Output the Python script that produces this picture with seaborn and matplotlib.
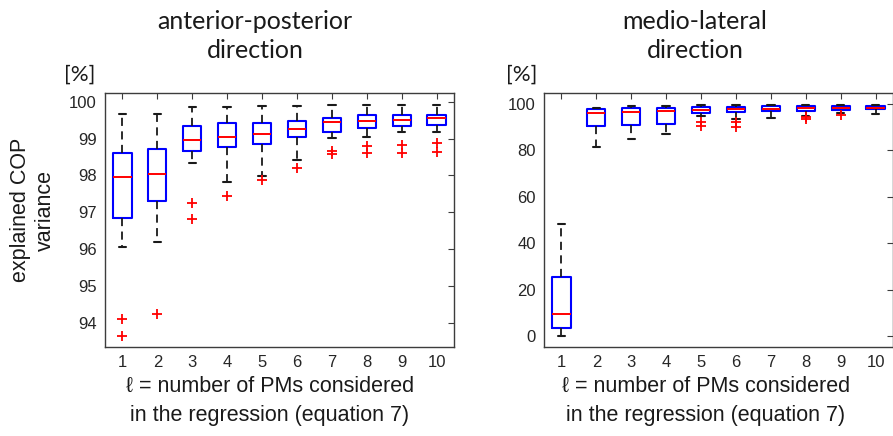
import numpy as np
import pandas as pd
import matplotlib
matplotlib.use("Agg")
import matplotlib.pyplot as plt
import seaborn as sns

# ---- data ----
pms = [1, 2, 3, 4, 5, 6, 7, 8, 9, 10]
ap_lo  = [96.05, 96.18, 98.33, 97.82, 97.98, 98.43, 99.02, 99.05, 99.19, 99.19]
ap_q1  = [96.84, 97.30, 98.67, 98.76, 98.85, 99.04, 99.19, 99.30, 99.34, 99.38]
ap_med = [97.96, 98.04, 98.96, 99.04, 99.12, 99.25, 99.44, 99.49, 99.52, 99.55]
ap_q3  = [98.62, 98.71, 99.34, 99.42, 99.43, 99.49, 99.55, 99.63, 99.64, 99.64]
ap_hi  = [99.67, 99.67, 99.85, 99.86, 99.88, 99.90, 99.92, 99.92, 99.92, 99.92]
ap_out_l = [1, 1, 2, 3, 3, 4, 5, 6, 7, 7, 8, 8, 9, 9, 10, 10]
ap_out_v = [94.09, 93.64, 94.23, 97.26, 96.82, 97.44, 97.89, 98.21,
            98.66, 98.58, 98.80, 98.60, 98.84, 98.62, 98.87, 98.63]

ml_lo  = [0.0, 81.3, 84.8, 86.9, 94.6, 93.5, 93.8, 95.0, 96.3, 95.6]
ml_q1  = [3.6, 90.6, 91.0, 91.2, 96.3, 96.5, 96.9, 97.0, 97.2, 97.6]
ml_med = [9.6, 96.0, 96.4, 97.0, 97.4, 97.7, 97.9, 98.1, 98.2, 98.4]
ml_q3  = [25.3, 97.7, 98.1, 98.1, 98.8, 98.8, 98.9, 99.1, 99.1, 99.3]
ml_hi  = [48.3, 98.4, 99.3, 99.3, 99.6, 99.6, 99.6, 99.6, 99.6, 99.6]
ml_out_l = [5, 5, 6, 6, 8, 8, 9]
ml_out_v = [92.4, 90.6, 92.4, 90.2, 94.4, 93.6, 95.2]

ap_yticks = [94, 95, 96, 97, 98, 99, 100]
ml_yticks = [0, 20, 40, 60, 80, 100]
titles = ["anterior-posterior\ndirection", "medio-lateral\ndirection"]
xlabel = "\u2113 = number of PMs considered\nin the regression (equation 7)"
ylabel = "explained COP\nvariance"
unit = "[%]"


def five_number_frame(lo, q1, med, q3, hi):
    rows = []
    for i, l in enumerate(pms):
        for v in (lo[i], q1[i], med[i], q3[i], hi[i]):
            rows.append((l, v))
    return pd.DataFrame(rows, columns=["l", "value"])


ap_df = five_number_frame(ap_lo, ap_q1, ap_med, ap_q3, ap_hi)
ml_df = five_number_frame(ml_lo, ml_q1, ml_med, ml_q3, ml_hi)

sns.set_style("white")
plt.rcParams["font.family"] = ["Liberation Sans", "DejaVu Sans"]

W, H = 893, 436
fig = plt.figure(figsize=(W / 100, H / 100), dpi=100)

def px_axes(x0, y0, x1, y1):
    return fig.add_axes([x0 / W, 1 - y1 / H, (x1 - x0) / W, (y1 - y0) / H])

ax1 = px_axes(105, 93, 454, 347)
ax2 = px_axes(544, 93, 893, 347)

spine_c = "#3c3c3c"
for ax, df, ol, ov, yt, ylim in [
    (ax1, ap_df, ap_out_l, ap_out_v, ap_yticks, (93.34, 100.24)),
    (ax2, ml_df, ml_out_l, ml_out_v, ml_yticks, (-4.7, 104.7)),
]:
    sns.boxplot(
        data=df, x="l", y="value", native_scale=True, orient="x",
        whis=(0, 100), fill=False, width=0.52, ax=ax,
        boxprops=dict(color="#0000FF", linewidth=1.5),
        medianprops=dict(color="#FF0000", linewidth=1.4),
        whiskerprops=dict(color="#1a1a1a", linewidth=1.3, linestyle=(0, (4.5, 3))),
        capprops=dict(color="#1a1a1a", linewidth=1.5),
        capwidths=0.21, showfliers=False,
    )
    sns.scatterplot(x=ol, y=ov, marker="+", color="#FF0000", s=60,
                    linewidth=1.3, ax=ax, zorder=4, legend=False)
    ax.set_xlim(0.5, 10.5)
    ax.set_ylim(*ylim)
    ax.set_xticks(pms)
    ax.set_xticklabels([str(p) for p in pms])
    ax.set_yticks(yt)
    ax.set_yticklabels([str(v) for v in yt])
    ax.set_xlabel("")
    ax.set_ylabel("")
    ax.tick_params(direction="in", top=True, right=True, length=4, width=0.8,
                   color=spine_c, labelcolor="#262626", labelsize=12, pad=6)
    for s in ax.spines.values():
        s.set_visible(True)
        s.set_color(spine_c)
        s.set_linewidth(1.0)

title_font = dict(family=["Lato", "DejaVu Sans"], fontsize=18, color="#1a1a1a")
fig.text(255 / W, 1 - 36 / H, titles[0], ha="center", va="center",
         linespacing=1.35, **title_font)
fig.text(695 / W, 1 - 36 / H, titles[1], ha="center", va="center",
         linespacing=1.35, **title_font)
unit_font = dict(family=["Lato", "DejaVu Sans"], fontsize=16, color="#1a1a1a")
fig.text(80 / W, 1 - 75 / H, unit, ha="center", va="center", **unit_font)
fig.text(522 / W, 1 - 75 / H, unit, ha="center", va="center", **unit_font)

lab_font = dict(fontsize=15.5, color="#1a1a1a")
fig.text(270 / W, 1 - 401 / H, xlabel, ha="center", va="center",
         linespacing=1.5, multialignment="center", **lab_font)
fig.text(706 / W, 1 - 401 / H, xlabel, ha="center", va="center",
         linespacing=1.5, multialignment="center", **lab_font)
fig.text(33 / W, 1 - 210 / H, ylabel, ha="center", va="center", rotation=90,
         linespacing=1.2, multialignment="center", **lab_font)

fig.savefig("out.png", dpi=100)
